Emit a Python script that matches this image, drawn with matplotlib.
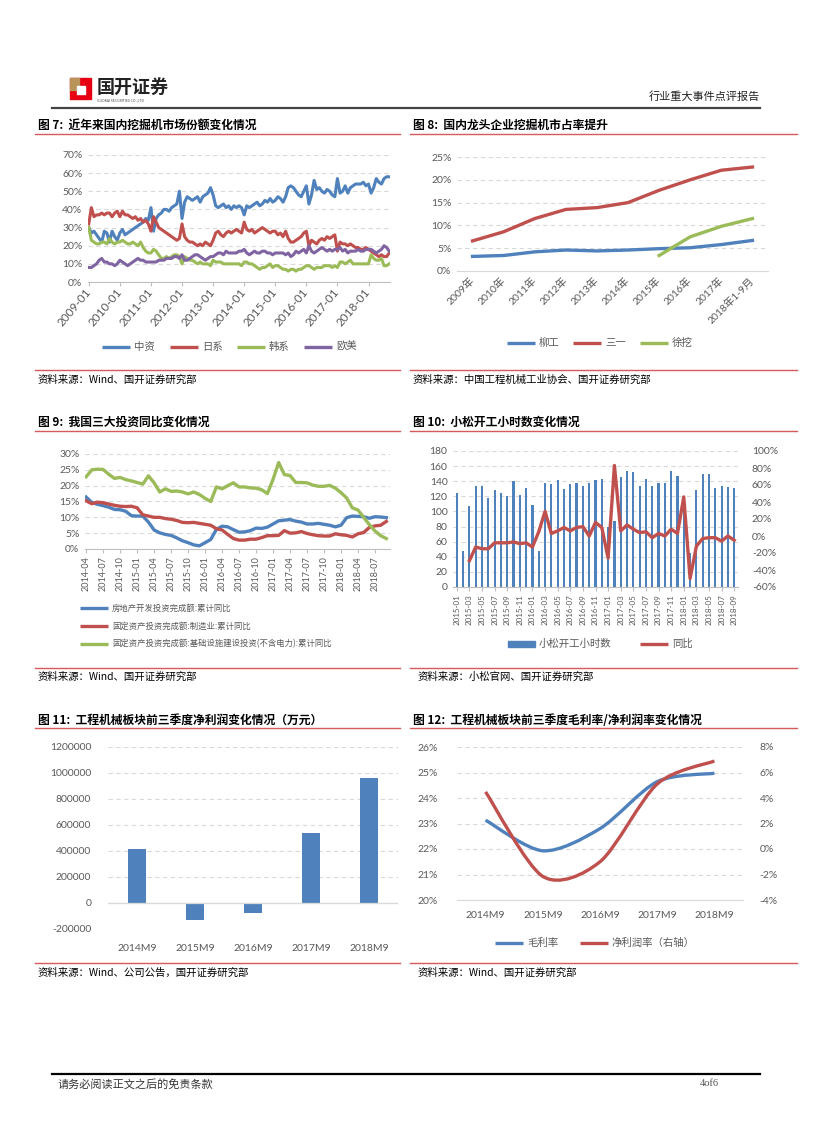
import numpy as np
import matplotlib
matplotlib.use('Agg')
import matplotlib.pyplot as plt
from matplotlib.lines import Line2D
from matplotlib.patches import Rectangle, PathPatch
from matplotlib.path import Path

plt.rcParams['font.family'] = ['Noto Sans CJK SC', 'DejaVu Sans']

# ---------------- data ----------------
# fig 7: monthly market share 2009-01 .. 2018-09 (%)
share_cn = [30, 27, 28, 26, 24, 22, 28, 27, 22, 28, 25, 23,
            27, 29, 26, 27, 28, 29, 30, 31, 32, 33, 35, 34,
            41, 28, 35, 37, 38, 40, 40, 39, 41, 42, 43, 50,
            35, 44, 47, 46, 45, 46, 47, 44, 47, 48, 49, 52,
            48, 42, 41, 42, 43, 41, 42, 40, 42, 41, 42, 41,
            37, 42, 41, 42, 43, 44, 42, 43, 45, 44, 46, 44,
            45, 47, 46, 44, 47, 52, 53, 52, 50, 48, 47, 50,
            53, 43, 48, 56, 51, 52, 50, 49, 51, 50, 48, 47,
            57, 49, 50, 53, 49, 52, 53, 54, 54, 54, 55, 53,
            54, 49, 52, 57, 55, 54, 57, 58, 58]
share_jp = [32, 41, 36, 37, 37, 38, 37, 38, 38, 36, 38, 39,
            36, 39, 37, 37, 36, 35, 36, 34, 35, 33, 34, 32,
            28, 36, 33, 30, 29, 28, 27, 26, 25, 24, 23, 24,
            32, 25, 23, 22, 22, 21, 20, 21, 20, 22, 21, 20,
            23, 27, 28, 26, 25, 27, 28, 27, 28, 29, 28, 27,
            33, 29, 28, 29, 27, 28, 29, 30, 29, 28, 27, 28,
            28, 26, 27, 25, 28, 24, 22, 22, 23, 24, 25, 27,
            28, 20, 23, 22, 21, 23, 24, 23, 25, 24, 25, 26,
            17, 22, 21, 21, 20, 21, 20, 19, 19, 18, 18, 19,
            18, 17, 16, 15, 14, 15, 14, 14, 16]
share_kr = [30, 23, 22, 21, 21, 22, 22, 21, 24, 22, 21, 22,
            22, 23, 22, 21, 21, 22, 21, 20, 22, 19, 17, 16,
            16, 18, 17, 15, 13, 13, 14, 13, 14, 15, 15, 14,
            10, 14, 13, 12, 12, 11, 10, 11, 10, 10, 10, 9,
            12, 11, 11, 11, 10, 10, 10, 10, 10, 10, 10, 9,
            11, 11, 10, 10, 9, 8, 7, 8, 8, 9, 10, 8,
            9, 9, 8, 7, 7, 6, 7, 7, 6, 7, 7, 8,
            9, 9, 8, 7, 8, 8, 8, 9, 9, 9, 8, 9,
            8, 11, 11, 10, 11, 12, 10, 10, 10, 10, 10, 10,
            10, 15, 13, 12, 12, 13, 9, 9, 10]
share_eu = [8, 8, 9, 10, 12, 13, 11, 11, 10, 10, 9, 10,
            12, 11, 10, 9, 10, 11, 12, 13, 12, 12, 11, 11,
            11, 11, 11, 12, 12, 12, 13, 13, 13, 14, 14, 13,
            15, 12, 12, 13, 14, 15, 15, 14, 13, 12, 13, 14,
            14, 15, 16, 16, 15, 17, 16, 16, 16, 16, 17, 17,
            18, 16, 15, 16, 17, 16, 16, 17, 17, 16, 16, 15,
            16, 16, 16, 16, 15, 16, 14, 15, 17, 16, 17, 18,
            16, 20, 17, 16, 17, 18, 19, 18, 17, 18, 17, 18,
            18, 19, 17, 18, 16, 17, 17, 17, 18, 17, 17, 18,
            18, 18, 17, 16, 17, 18, 20, 19, 17]
labels_7 = ['2009-01', '2010-01', '2011-01', '2012-01', '2013-01',
            '2014-01', '2015-01', '2016-01', '2017-01', '2018-01']

# fig 8: yearly share of leading firms (%)
years_8 = ['2009年', '2010年', '2011年', '2012年', '2013年', '2014年',
           '2015年', '2016年', '2017年', '2018年1-9月']
liugong = [3.2, 3.4, 4.2, 4.6, 4.4, 4.6, 4.9, 5.1, 5.8, 6.7]
sany = [6.6, 8.6, 11.5, 13.5, 13.9, 15.0, 17.7, 20.0, 22.1, 22.8]
xuwa = [np.nan] * 6 + [3.4, 7.5, 9.8, 11.5]

# fig 9: cumulative yoy of three investment series, 2014-04 .. 2018-09 (%)
inv_estate = [16.4, 14.7, 14.1, 13.7, 13.2, 12.5, 12.4, 11.9, 10.5,
              10.4, 10.4, 8.5, 6.0, 5.1, 4.6, 4.3, 3.5, 2.6, 2.0, 1.3, 1.0,
              2.0, 3.0, 6.2, 7.2, 7.0, 6.1, 5.3, 5.4, 5.8, 6.6, 6.5, 6.9,
              7.9, 8.9, 9.1, 9.3, 8.8, 8.5, 7.9, 7.9, 8.1, 7.8, 7.5, 7.0,
              7.5, 9.9, 10.4, 10.3, 10.2, 9.7, 10.2, 10.1, 9.9]
inv_manu = [15.2, 14.3, 14.8, 14.6, 14.2, 13.8, 13.5, 13.4, 13.5,
            13.0, 10.8, 10.4, 10.0, 10.0, 9.6, 9.4, 9.0, 8.4, 8.3, 8.4, 8.1,
            7.8, 7.5, 6.4, 6.0, 4.6, 3.3, 2.8, 2.8, 3.1, 3.1, 3.6, 4.2,
            4.2, 4.3, 5.8, 5.0, 5.1, 5.5, 4.9, 4.5, 4.2, 4.1, 4.1, 4.8,
            4.5, 4.3, 3.8, 4.8, 5.2, 6.8, 7.3, 7.5, 8.7]
inv_infra = [22.8, 25.0, 25.2, 25.1, 23.6, 22.3, 22.6, 21.9, 21.5,
             21.0, 20.5, 23.1, 20.9, 18.0, 19.0, 18.2, 18.3, 18.0, 17.4, 18.0, 17.2,
             16.0, 15.0, 19.6, 19.0, 20.0, 20.9, 19.6, 19.6, 19.3, 19.2, 18.7, 17.5,
             22.0, 27.3, 23.5, 23.2, 21.0, 21.0, 20.9, 20.2, 19.8, 19.8, 20.1, 19.2,
             17.8, 16.1, 13.0, 12.3, 10.0, 7.7, 5.7, 4.2, 3.3]
labels_9 = ['2014-04', '2014-07', '2014-10', '2015-01', '2015-04', '2015-07',
            '2015-10', '2016-01', '2016-04', '2016-07', '2016-10', '2017-01',
            '2017-04', '2017-07', '2017-10', '2018-01', '2018-04', '2018-07']

# fig 10: Komatsu working hours 2015-01 .. 2018-09, yoy from 2015-03
komatsu_hours = [125, 47, 107, 134, 134, 118, 128, 124, 120, 140, 122, 131,
                 108, 48, 138, 136, 141, 130, 136, 137, 134, 137, 142, 143,
                 80, 88, 146, 154, 152, 134, 143, 134, 137, 137, 154, 147,
                 117, 45, 128, 150, 149, 131, 134, 133, 131]
komatsu_yoy = [-29, -13, -15, -15, -8, -8, -8, -7, -9, -8,
               -13, 5, 29, 3, 6, 10, 6, 10, 11, 0, 16, 10,
               -26, 83, 6, 13, 8, 4, 5, -2, 3, 0, 8, 3,
               46, -50, -12, -3, -2, -2, -6, 0, -5]
labels_10 = ['2015-01', '2015-03', '2015-05', '2015-07', '2015-09', '2015-11',
             '2016-01', '2016-03', '2016-05', '2016-07', '2016-09', '2016-11',
             '2017-01', '2017-03', '2017-05', '2017-07', '2017-09', '2017-11',
             '2018-01', '2018-03', '2018-05', '2018-07', '2018-09']

# fig 11 / 12: first three quarters
periods = ['2014M9', '2015M9', '2016M9', '2017M9', '2018M9']
net_profit = [415000, -130000, -79000, 535000, 965000]
gross_margin = [23.13, 21.93, 22.8, 24.64, 24.97]
net_margin = [4.48, -2.15, -1.0, 5.1, 6.9]

# ---------------- style ----------------
BLUE = '#4F81BD'
RED = '#C0504D'
GREEN = '#9BBB59'
PURPLE = '#8064A2'
GRAY = '#595959'
GRID = '#D9D9D9'
SECT = '#D6595C'
NUM = ['Lato', 'Noto Sans CJK SC']
W, H = 827, 1122

fig = plt.figure(figsize=(W / 100, H / 100), dpi=100)


def add_ax(x0, y0, x1, y1):
    return fig.add_axes([x0 / W, 1 - y1 / H, (x1 - x0) / W, (y1 - y0) / H])


def ftext(x, y, s, **kw):
    kw.setdefault('va', 'center')
    fig.text(x / W, 1 - y / H, s, **kw)


def fline(x0, x1, y, **kw):
    fig.add_artist(Line2D([x0 / W, x1 / W], [1 - y / H, 1 - y / H],
                          transform=fig.transFigure, **kw))


def legend_item(x, y, label, color, size=7.5):
    fline(x, x + 28, y, color=color, lw=2.4, solid_capstyle='butt')
    ftext(x + 32, y, label, fontsize=size, color=GRAY)


def style(ax, ymin, ymax, step, fmt, size=7):
    for s in ['top', 'right', 'left']:
        ax.spines[s].set_visible(False)
    ax.spines['bottom'].set_color('#BFBFBF')
    ticks = np.arange(ymin, ymax + step / 2, step)
    ax.set_ylim(ymin, ymax)
    ax.set_yticks(ticks)
    ax.set_yticklabels([fmt.format(v) for v in ticks], family=NUM)
    ax.yaxis.grid(True, color=GRID, lw=0.8, ls=(0, (4, 3)))
    ax.set_axisbelow(True)
    ax.tick_params(axis='y', length=0, labelsize=size, labelcolor=GRAY, pad=4)
    ax.tick_params(axis='x', labelsize=size, labelcolor=GRAY, color='#BFBFBF')


def smooth(ax, xs, ys, tension=1 / 7, **kw):
    # Bezier smoothing like the spreadsheet "smoothed line"
    pts = np.column_stack([xs, ys]).astype(float)
    n = len(pts)
    verts = [pts[0]]
    codes = [Path.MOVETO]
    for i in range(n - 1):
        p0 = pts[max(i - 1, 0)]
        p1 = pts[i]
        p2 = pts[i + 1]
        p3 = pts[min(i + 2, n - 1)]
        verts += [p1 + (p2 - p0) * tension, p2 - (p3 - p1) * tension, p2]
        codes += [Path.CURVE4] * 3
    ax.add_patch(PathPatch(Path(verts, codes), fill=False, **kw))


# ---------------- header / footer ----------------
fig.add_artist(Rectangle((70 / W, 1 - 99 / H), 21 / W, 21 / H,
                         transform=fig.transFigure, color='#E60012'))
fig.add_artist(Rectangle((70 / W, 1 - 90 / H), 9 / W, 12 / H,
                         transform=fig.transFigure, color='#B8935A'))
fig.add_artist(Rectangle((77 / W, 1 - 94 / H), 8 / W, 8 / H,
                         transform=fig.transFigure, color='white'))
ftext(97, 87, '国开证券', fontsize=13, fontweight='bold', color='#222222')
ftext(97, 100, 'GUOKAI SECURITIES CO.,LTD', fontsize=2.5, color='#444444')
ftext(760, 97, '行业重大事件点评报告', fontsize=8, color='#222222', ha='right')
fline(52, 760, 108, color='#444444', lw=1.6)

fline(52, 760, 1074, color='black', lw=1.6)
ftext(58, 1084, '请务必阅读正文之后的免责条款', fontsize=8, color='#333333',
      style='italic')
ftext(700, 1084, '4of6', fontsize=7.5, color='#555555', family='Liberation Serif')

# section titles, rules and sources
titles = [(38, 125, '图 7:  近年来国内挖掘机市场份额变化情况'),
          (413, 125, '图 8:  国内龙头企业挖掘机市占率提升'),
          (38, 422, '图 9:  我国三大投资同比变化情况'),
          (413, 422, '图 10:  小松开工小时数变化情况'),
          (38, 720, '图 11:  工程机械板块前三季度净利润变化情况（万元）'),
          (413, 720, '图 12:  工程机械板块前三季度毛利率/净利润率变化情况')]
for x, y, t in titles:
    ftext(x, y, t, fontsize=8.5, fontweight='bold', color='black')

for y in [134, 370, 431, 668, 728, 963]:
    fline(35, 400, y, color=SECT, lw=1.0)
    fline(410, 797, y, color=SECT, lw=1.0)

sources = [(38, 380, '资料来源：Wind、国开证券研究部'),
           (413, 380, '资料来源：中国工程机械工业协会、国开证券研究部'),
           (38, 677, '资料来源：Wind、国开证券研究部'),
           (418, 677, '资料来源：小松官网、国开证券研究部'),
           (38, 973, '资料来源：Wind、公司公告，国开证券研究部'),
           (418, 973, '资料来源：Wind、国开证券研究部')]
for x, y, t in sources:
    ftext(x, y, t, fontsize=7.5, color='black')

# ---------------- fig 7 ----------------
ax7 = add_ax(88, 155, 390, 282)
x7 = np.arange(len(share_cn))
ax7.plot(x7, share_cn, color=BLUE, lw=2.2)
ax7.plot(x7, share_jp, color=RED, lw=2.2)
ax7.plot(x7, share_kr, color=GREEN, lw=2.2)
ax7.plot(x7, share_eu, color=PURPLE, lw=2.2)
style(ax7, 0, 70, 10, '{:.0f}%', size=7.5)
ax7.set_xlim(-0.3, len(share_cn) - 0.7)
ax7.set_xticks(np.arange(0, len(share_cn), 12))
ax7.set_xticklabels(labels_7, rotation=50, ha='right', va='center',
                    rotation_mode='anchor', family=NUM, fontsize=8.5)
ax7.tick_params(axis='x', length=3, pad=3)
legend_item(102, 347, '中资', BLUE)
legend_item(170, 347, '日系', RED)
legend_item(237, 347, '韩系', GREEN)
legend_item(304, 347, '欧美', PURPLE)

# ---------------- fig 8 ----------------
ax8 = add_ax(457, 157, 768, 271)
x8 = np.arange(len(years_8))
ax8.plot(x8, liugong, color=BLUE, lw=2.4)
ax8.plot(x8, sany, color=RED, lw=2.4)
ax8.plot(x8, xuwa, color=GREEN, lw=2.4)
style(ax8, 0, 25, 5, '{:.0f}%', size=7.5)
ax8.spines['bottom'].set_color(GRID)
ax8.set_xlim(-0.5, len(years_8) - 0.5)
ax8.set_xticks(x8)
ax8.set_xticklabels(years_8, rotation=45, ha='right', va='center',
                    rotation_mode='anchor', family=NUM)
ax8.tick_params(axis='x', length=0, pad=6)
legend_item(507, 343, '柳工', BLUE)
legend_item(573, 343, '三一', RED)
legend_item(640, 343, '徐挖', GREEN)

# ---------------- fig 9 ----------------
ax9 = add_ax(85, 454, 390, 549)
x9 = np.arange(len(inv_estate))
ax9.plot(x9, inv_estate, color=BLUE, lw=2.4)
ax9.plot(x9, inv_manu, color=RED, lw=2.4)
ax9.plot(x9, inv_infra, color=GREEN, lw=2.4)
style(ax9, 0, 30, 5, '{:.0f}%', size=7.5)
ax9.set_xlim(-0.2, len(inv_estate) - 0.35)
ax9.set_xticks(np.arange(0, len(inv_estate), 3))
ax9.set_xticklabels(labels_9, rotation=90, ha='center', va='top',
                    family=NUM, fontsize=6.5)
ax9.tick_params(axis='x', length=3, pad=2)
legend_item(80, 608, '房地产开发投资完成额:累计同比', BLUE, size=6)
legend_item(80, 626, '固定资产投资完成额:制造业:累计同比', RED, size=6)
legend_item(80, 644, '固定资产投资完成额:基础设施建设投资(不含电力):累计同比',
            GREEN, size=6)

# ---------------- fig 10 ----------------
ax10 = add_ax(453, 451, 738, 587)
x10 = np.arange(len(komatsu_hours))
ax10.bar(x10, komatsu_hours, width=0.35, color=BLUE)
style(ax10, 0, 180, 20, '{:.0f}', size=7.5)
ax10.set_xlim(-0.6, len(komatsu_hours) - 0.4)
ax10.set_xticks(np.arange(0, len(komatsu_hours), 2))
ax10.set_xticklabels(labels_10, rotation=90, ha='center', va='top',
                     family=NUM, fontsize=5.8)
ax10.tick_params(axis='x', length=3, pad=2)
ax10r = ax10.twinx()
ax10r.plot(x10[2:], komatsu_yoy, color=RED, lw=2.4)
for s in ['top', 'right', 'left', 'bottom']:
    ax10r.spines[s].set_visible(False)
rt = np.arange(-60, 101, 20)
ax10r.set_ylim(-60, 100)
ax10r.set_yticks(rt)
ax10r.set_yticklabels(['{:.0f}%'.format(v) for v in rt], family=NUM)
ax10r.tick_params(axis='y', length=0, labelsize=7.5, labelcolor=GRAY, pad=10)
fig.add_artist(Rectangle((508 / W, 1 - 647 / H), 27 / W, 6 / H,
                         transform=fig.transFigure, color=BLUE))
ftext(539, 644, '小松开工小时数', fontsize=7.5, color=GRAY)
legend_item(640, 644, '同比', RED)

# ---------------- fig 11 ----------------
ax11 = add_ax(108, 747, 398, 929)
x11 = np.arange(len(periods))
ax11.bar(x11, net_profit, width=0.32, color=BLUE)
style(ax11, -200000, 1200000, 200000, '{:.0f}', size=7.5)
ax11.spines['bottom'].set_visible(False)
ax11.axhline(0, color=GRID, lw=0.9)
ax11.set_xlim(-0.5, len(periods) - 0.5)
ax11.set_xticks(x11)
ax11.set_xticklabels(periods, family=NUM)
ax11.tick_params(axis='x', length=0, pad=11)
ax11.tick_params(axis='y', pad=12)

# ---------------- fig 12 ----------------
ax12 = add_ax(457, 747, 743, 900)
x12 = np.arange(len(periods))
style(ax12, 20, 26, 1, '{:.0f}%', size=7.5)
ax12.spines['bottom'].set_color(GRID)
smooth(ax12, x12, gross_margin, edgecolor=BLUE, lw=2.4)
ax12.set_xlim(-0.5, len(periods) - 0.5)
ax12.set_xticks(x12)
ax12.set_xticklabels(periods, family=NUM)
ax12.tick_params(axis='x', length=0, pad=8)
ax12.tick_params(axis='y', pad=14)
ax12r = ax12.twinx()
smooth(ax12r, x12, net_margin, edgecolor=RED, lw=2.4)
for s in ['top', 'right', 'left', 'bottom']:
    ax12r.spines[s].set_visible(False)
rt12 = np.arange(-4, 8.1, 2)
ax12r.set_ylim(-4, 8)
ax12r.set_yticks(rt12)
ax12r.set_yticklabels(['{:.0f}%'.format(v) for v in rt12], family=NUM)
ax12r.tick_params(axis='y', length=0, labelsize=7.5, labelcolor=GRAY, pad=12)
ax12r.set_xlim(-0.5, len(periods) - 0.5)
legend_item(495, 943, '毛利率', BLUE)
legend_item(580, 943, '净利润率（右轴）', RED)

fig.savefig('out.png', dpi=100)
